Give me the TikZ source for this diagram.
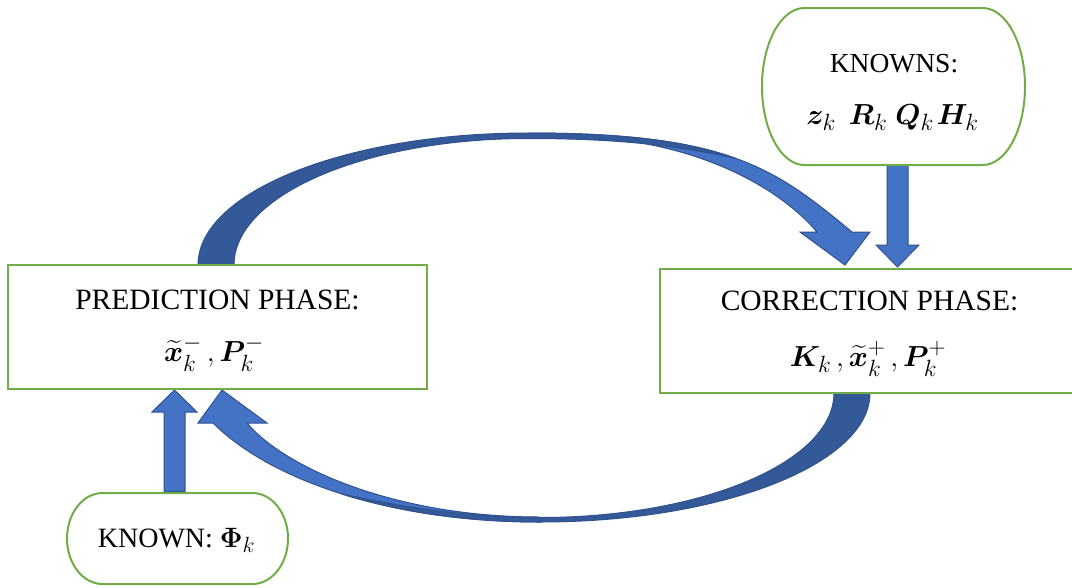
\RequirePackage{fix-cm}
\documentclass[tikz,border=0pt]{standalone}
\usepackage[no-math]{fontspec}
\setmainfont{Liberation Serif}
\usepackage{amsmath,bm}
\usetikzlibrary{calc}
\DeclareMathSizes{28}{28}{22}{16}
\DeclareMathSizes{29}{29}{23.5}{17}
\definecolor{boxgreen}{RGB}{112,173,71}
\definecolor{arrowfill}{RGB}{68,114,196}
\definecolor{arrowshade}{RGB}{51,89,152}
\definecolor{arrowedge}{RGB}{47,82,143}
\pgfdeclarelayer{back}
\pgfsetlayers{back,main}

% Outline of a terminator (flat top and bottom, half-elliptic ends) around a node
\newcommand{\termbox}[1]{%
  \draw[termline] let \p1=(#1.north west), \p2=(#1.south east),
     \n1={0.161*(\x2-\x1)}, \n2={(\y1-\y2)/2},
     \n3={0.5523*0.161*(\x2-\x1)}, \n4={0.5523*(\y1-\y2)/2} in
     (\x1+\n1,\y1) -- (\x2-\n1,\y1)
     .. controls (\x2-\n1+\n3,\y1) and (\x2,\y1-\n2+\n4) .. (\x2,\y1-\n2)
     .. controls (\x2,\y2+\n2-\n4) and (\x2-\n1+\n3,\y2) .. (\x2-\n1,\y2)
     -- (\x1+\n1,\y2)
     .. controls (\x1+\n1-\n3,\y2) and (\x1,\y2+\n2-\n4) .. (\x1,\y2+\n2)
     .. controls (\x1,\y1-\n2+\n4) and (\x1+\n1-\n3,\y1) .. cycle;}

\begin{document}
\begin{tikzpicture}[x=1pt,y=-1pt,
  phasebox/.style={draw=boxgreen, line width=2pt, inner sep=0pt, outer sep=0pt, rectangle},
  anchorbox/.style={inner sep=0pt, outer sep=0pt, rectangle},
  termline/.style={draw=boxgreen, line width=2pt},
  txt/.style={anchor=base, inner sep=0pt, font=\fontsize{29.5}{32}\selectfont},
  smalltxt/.style={anchor=base, inner sep=0pt, font=\fontsize{28}{32}\selectfont},
  mathtxt/.style={anchor=base, inner sep=0pt, font=\fontsize{29}{32}\selectfont},
  blockfront/.style={fill=arrowfill, draw=arrowedge, line width=1pt, line join=miter},
  blockback/.style={fill=arrowshade, draw=arrowedge, line width=1pt, line join=round}]
\useasboundingbox (0,0) rectangle (1072,587);

% phase boxes
\node[phasebox, minimum width=419pt, minimum height=124pt] (pred) at (217.5,327) {};
\node[phasebox, minimum width=430pt, minimum height=124pt] (corr) at (875,331) {};

% terminator boxes with the known quantities
\node[anchorbox, minimum width=263pt, minimum height=157pt] (knowns) at (893.5,86.5) {};
\node[anchorbox, minimum width=221pt, minimum height=91pt] (known) at (177.5,538.5) {};
\termbox{knowns}
\termbox{known}

% texts
\node[txt] (predtitle) at (217.5,309) {PREDICTION PHASE:};
\node[mathtxt] (predvars) at (214,361) {$\widetilde{\bm{x}}_k^{-}\,,\bm{P}_k^{-}$};
\node[txt] (corrtitle) at (869.5,310) {CORRECTION PHASE:};
\node[mathtxt] (corrvars) at (868,366) {$\bm{K}_k\,,\widetilde{\bm{x}}_k^{+}\,,\bm{P}_k^{+}$};
\node[smalltxt, font=\fontsize{27.5}{32}\selectfont] (knownstitle) at (894,72) {KNOWNS:};
\node[mathtxt] (knownsvars) at (892.5,124) {$\bm{z}_k\hspace{13pt}\bm{R}_k\hspace{8pt}\bm{Q}_k\hspace{3pt}\bm{H}_k$};
\node[smalltxt] (knowntitle) at (176.5,547) {KNOWN: $\bm{\Phi}_k$};

\begin{pgfonlayer}{back}
  % prediction -> correction: front face of the curved arrow
  \filldraw[blockfront] (528,133) .. controls (728,133) and (775,168) .. (852,232)
    -- (870,232) -- (845,265) -- (800,232) -- (817,232)
    .. controls (778,186) and (690,136) .. (560,136) -- cycle;
  % prediction -> correction: shaded back face
  \filldraw[blockback] ($(pred.north)+(-19.5,0)$)
    .. controls (198,192.1) and (345.7,133) .. (528,133)
    .. controls (628,133) and (689.75,141.75) .. (736.1,158.5)
    .. controls (680,146) and (620,138.5) .. (528,138.5)
    .. controls (365.6,138.5) and (234,195.1) .. ($(pred.north)+(16.5,0)$) -- cycle;

  % correction -> prediction: front face of the curved arrow
  \filldraw[blockfront] (540,522) .. controls (390,522) and (270,480) .. (213,423)
    -- (198,423) -- (222,390) -- (267,423) -- (247,423)
    .. controls (282,465) and (390,517) .. (540,517) -- cycle;
  % correction -> prediction: shaded back face
  \filldraw[blockback] ($(corr.south west)+(210,0)$)
    .. controls (870,463.8) and (722.3,522) .. (540,522)
    .. controls (465,522) and (397.5,511.5) .. (341.6,493.9)
    .. controls (400,507) and (470,517.5) .. (540,517.5)
    .. controls (702.4,517.5) and (834,461.6) .. ($(corr.south west)+(174,0)$) -- cycle;

  % knowns -> correction
  \filldraw[blockfront] ($(knowns.south)+(-6.5,0)$) -- ($(knowns.south)+(14.5,0)$)
    -- (908,245) -- (919,245) -- (897.5,267) -- (876,245) -- (887,245) -- cycle;
  % known -> prediction
  \filldraw[blockfront] ($(known.north)+(-13.5,-1.5)$) -- ($(known.north)+(7.5,-1.5)$)
    -- (185,412) -- (197,412) -- (174.5,390) -- (152,412) -- (164,412) -- cycle;
\end{pgfonlayer}
\end{tikzpicture}
\end{document}
